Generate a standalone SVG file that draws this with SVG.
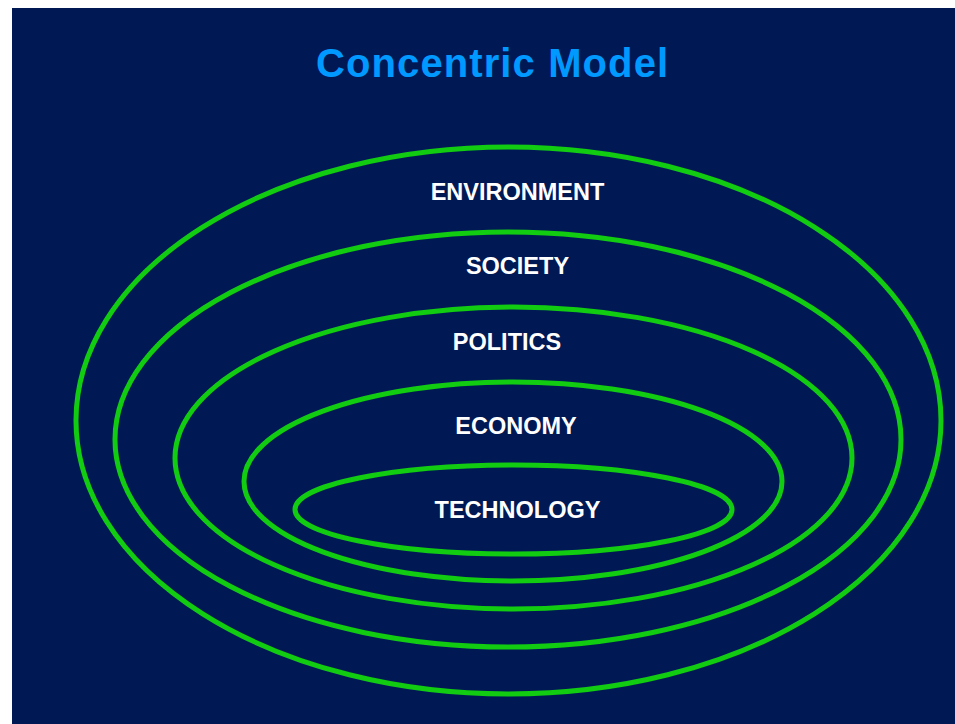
<svg xmlns="http://www.w3.org/2000/svg" width="955" height="724" viewBox="0 0 955 724">
  <style>
    .ring { fill: none; stroke: #11cc11; stroke-width: 5; }
    .label { font-family: "Liberation Sans", Arial, sans-serif; font-weight: bold; font-size: 23.5px; fill: #ffffff; text-anchor: middle; }
    .title { font-family: "Liberation Sans", Arial, sans-serif; font-weight: bold; font-size: 40px; fill: #0099ff; letter-spacing: 1.1px; }
  </style>
  <rect x="0" y="0" width="955" height="724" fill="#ffffff"/>
  <rect x="12" y="8" width="943" height="716" fill="#001955"/>
  <text class="title" x="316" y="77">Concentric Model</text>

  <g id="environment">
    <ellipse class="ring" cx="508.5" cy="420.5" rx="432.5" ry="273.5"/>
    <text class="label" x="517.5" y="200">ENVIRONMENT</text>
  </g>
  <g id="society">
    <ellipse class="ring" cx="508" cy="439.5" rx="393" ry="207.5"/>
    <text class="label" x="517.5" y="274">SOCIETY</text>
  </g>
  <g id="politics">
    <ellipse class="ring" cx="513.5" cy="458" rx="338.5" ry="151"/>
    <text class="label" x="507" y="350">POLITICS</text>
  </g>
  <g id="economy">
    <ellipse class="ring" cx="513" cy="481.5" rx="269" ry="99.5"/>
    <text class="label" x="516" y="434">ECONOMY</text>
  </g>
  <g id="technology">
    <ellipse class="ring" cx="513.5" cy="509.5" rx="218.5" ry="44.5"/>
    <text class="label" x="517.5" y="518">TECHNOLOGY</text>
  </g>
  <g id="connectors"/>
</svg>
